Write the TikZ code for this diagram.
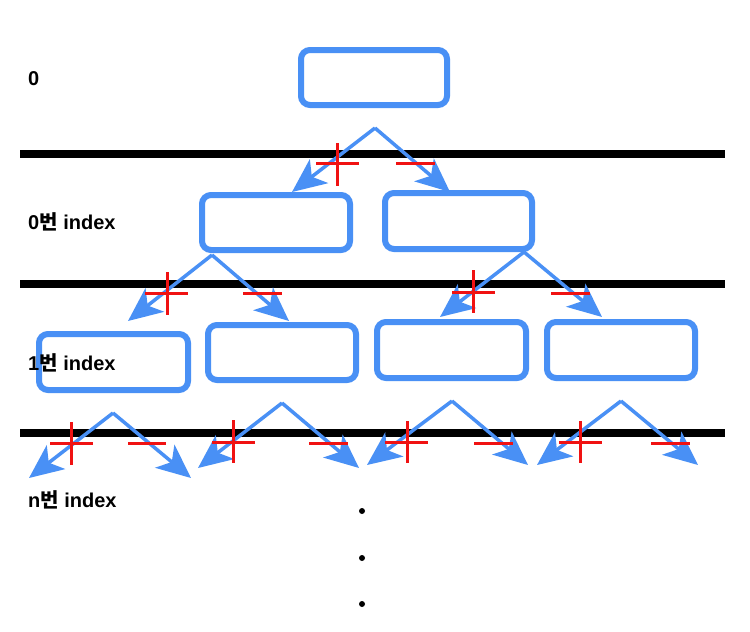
\documentclass[tikz,border=0pt]{standalone}
\usepackage{fontspec}
\setmainfont{Liberation Sans}
\newfontfamily\krfont{Noto Sans CJK KR}
\usetikzlibrary{arrows.meta}
\definecolor{boxblue}{RGB}{73,144,245}
\definecolor{markred}{RGB}{240,18,18}
\begin{document}
\begin{tikzpicture}[x=1pt,y=-1pt,
  tbox/.style={draw=boxblue, line width=6pt, rounded corners=9pt, fill=white, inner sep=0pt},
  sep/.style={draw=black, line width=7.5pt},
  link/.style={draw=boxblue, line width=3.5pt, -{Stealth[length=34pt 0 1, width=30pt 0 1, inset=9pt 0 1]}},
  redmark/.style={draw=markred, line width=3pt},
  lbl/.style={anchor=base west, inner sep=0pt, font=\fontsize{20}{24}\selectfont\bfseries},
  dotnode/.style={circle, fill=black, inner sep=0pt, minimum size=6pt}
]
\useasboundingbox (0,0) rectangle (750,632);
\fill[white] (0,0) rectangle (750,632);

% separator lines
\coordinate (s1a) at (20,154); \coordinate (s1b) at (725,154);
\coordinate (s2a) at (20,284); \coordinate (s2b) at (725,284);
\coordinate (s3a) at (20,433); \coordinate (s3b) at (725,433);
\draw[sep] (s1a) -- (s1b);
\draw[sep] (s2a) -- (s2b);
\draw[sep] (s3a) -- (s3b);

% boxes
\node[tbox, minimum width=146pt, minimum height=55pt] (root) at (374,77.5) {};
\node[tbox, minimum width=148pt, minimum height=55pt] (l1a) at (276,222.5) {};
\node[tbox, minimum width=147pt, minimum height=56pt] (l1b) at (458.5,221) {};
\node[tbox, minimum width=149pt, minimum height=56pt] (l2a) at (113.5,362) {};
\node[tbox, minimum width=148pt, minimum height=55pt] (l2b) at (282,352.5) {};
\node[tbox, minimum width=149pt, minimum height=56pt] (l2c) at (451.5,350) {};
\node[tbox, minimum width=148pt, minimum height=56pt] (l2d) at (621,350) {};

% labels
\node[lbl] (t0) at (28,85) {0};
\node[lbl] (t1) at (28,229) {0{\krfont\bfseries 번} index};
\node[lbl] (t2) at (28,370) {1{\krfont\bfseries 번} index};
\node[lbl] (t3) at (28,507) {n{\krfont\bfseries 번} index};

% arrow apexes and tips
\coordinate (p0) at (375,128);   \coordinate (p0l) at (292,192);  \coordinate (p0r) at (450,192);
\coordinate (pa) at (212,255);   \coordinate (pal) at (128,321);  \coordinate (par) at (289,321);
\coordinate (pb) at (524,252);   \coordinate (pbl) at (440,317);  \coordinate (pbr) at (602,317);
\coordinate (q1) at (113,413);   \coordinate (q1l) at (29,478);   \coordinate (q1r) at (191,478);
\coordinate (q2) at (282,403);   \coordinate (q2l) at (198,468);  \coordinate (q2r) at (359,468);
\coordinate (q3) at (452,401);   \coordinate (q3l) at (367,465);  \coordinate (q3r) at (528,465);
\coordinate (q4) at (621,401);   \coordinate (q4l) at (537,465);  \coordinate (q4r) at (698,465);

\foreach \a in {p0,pa,pb,q1,q2,q3,q4}{
  \draw[link] (\a) -- (\a l);
  \draw[link] (\a) -- (\a r);
}

% red marks: crosses
\draw[redmark] (337,143) -- (337,186) (316,163) -- (359,163);
\draw[redmark] (167,272) -- (167,315) (145,293) -- (188,293);
\draw[redmark] (473,270) -- (473,313) (452,292) -- (495,292);
\draw[redmark] (71,422) -- (71,465) (50,443) -- (93,443);
\draw[redmark] (233,420) -- (233,463) (212,442) -- (255,442);
\draw[redmark] (407,421) -- (407,463) (385,442) -- (428,442);
\draw[redmark] (580,421) -- (580,463) (559,442) -- (602,442);
% red marks: dashes
\draw[redmark] (396,163) -- (435,163);
\draw[redmark] (243,293) -- (282,293);
\draw[redmark] (551,293) -- (590,293);
\draw[redmark] (128,443) -- (166,443);
\draw[redmark] (309,443) -- (348,443);
\draw[redmark] (474,443) -- (513,443);
\draw[redmark] (651,443) -- (690,443);

% dots
\node[dotnode] (d1) at (362,511) {};
\node[dotnode] (d2) at (362,558) {};
\node[dotnode] (d3) at (362,604) {};
\end{tikzpicture}
\end{document}
